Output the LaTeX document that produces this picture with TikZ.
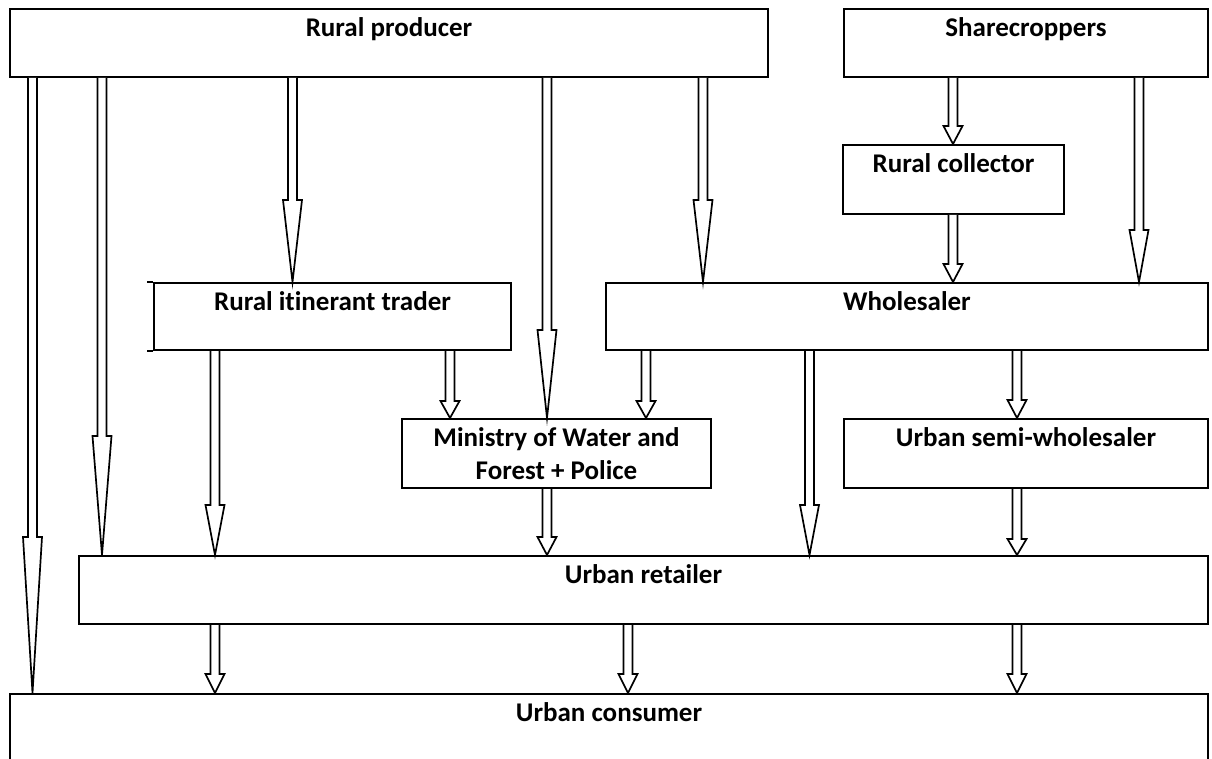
\documentclass[tikz,border=0pt]{standalone}
\usepackage{fontspec}
\setmainfont{Carlito}[Ligatures={NoCommon}]
\usetikzlibrary{calc}
\tikzset{
  box/.style={draw, line width=2pt, inner xsep=0pt, inner ysep=0pt, anchor=north west,
    font=\fontsize{27}{33}\selectfont\bfseries},
  topline/.style={text height=27.5pt, text depth=#1},
  arrowline/.style={draw, line width=1.7pt, fill=white, line join=miter},
  boxline/.style={line width=2pt}
}
% \barrow{x}{from node}{to node}{head length}
\newcommand\barrow[4]{%
  \path[arrowline] let \p1=(#2.south), \p2=(#3.north) in
    (#1pt-4.5pt,\y1) -- (#1pt-4.5pt,\y2+#4pt) -- (#1pt-9.5pt,\y2+#4pt) -- (#1pt,\y2)
    -- (#1pt+9.5pt,\y2+#4pt) -- (#1pt+4.5pt,\y2+#4pt) -- (#1pt+4.5pt,\y1);}
\begin{document}
\begin{tikzpicture}[x=1pt,y=-1pt]
\useasboundingbox (0,0) rectangle (1212,759);
\clip (0,0) rectangle (1212,759);
\node[box, topline=40.5pt, minimum width=758pt, minimum height=68pt] (prod) at (9,8) {Rural producer};
\node[box, topline=40.5pt, minimum width=364pt, minimum height=68pt] (share) at (843,8) {Sharecroppers};
\node[box, topline=41.5pt, minimum width=221pt, minimum height=69pt] (coll) at (842,144) {Rural collector};
\node[box, topline=39.5pt, minimum width=357pt, minimum height=67pt] (trader) at (153,282) {Rural itinerant trader};
\node[box, topline=39.5pt, minimum width=602pt, minimum height=67pt] (whole) at (605,282) {Wholesaler};
\node[box, align=center, minimum width=309pt, minimum height=69pt] (min) at (401,418) {Ministry of Water and\\Forest + Police};
\node[box, topline=41.5pt, minimum width=364pt, minimum height=69pt] (semi) at (843,418) {Urban semi-wholesaler};
\node[box, topline=40.5pt, minimum width=1129pt, minimum height=68pt] (ret) at (78,555) {Urban retailer};
\node[box, topline=72.5pt, minimum width=1198pt, minimum height=100pt] (cons) at (9,693) {Urban consumer};
\draw[boxline] (trader.north west) -- ++(-6pt,0);
\draw[boxline] (trader.south west) -- ++(-6pt,0);
\barrow{32.5}{prod}{cons}{156}
\barrow{102}{prod}{ret}{119}
\barrow{292.5}{prod}{trader}{82}
\barrow{547}{prod}{min}{88}
\barrow{703}{prod}{whole}{82}
\barrow{953}{share}{coll}{18}
\barrow{953}{coll}{whole}{18}
\barrow{1139}{share}{whole}{52}
\barrow{215}{trader}{ret}{50}
\barrow{450}{trader}{min}{17}
\barrow{646}{whole}{min}{17}
\barrow{809.5}{whole}{ret}{50}
\barrow{1017}{whole}{semi}{18}
\barrow{547}{min}{ret}{18}
\barrow{1017}{semi}{ret}{16}
\barrow{215}{ret}{cons}{19}
\barrow{628}{ret}{cons}{19}
\barrow{1017}{ret}{cons}{19}
\end{tikzpicture}
\end{document}
